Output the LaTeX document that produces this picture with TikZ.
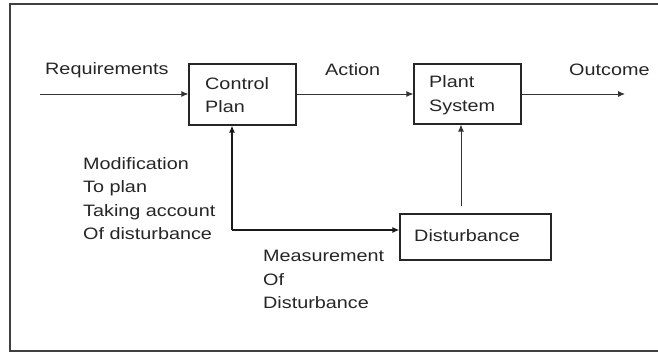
\documentclass[tikz,border=0pt]{standalone}
\usepackage{fontspec}
\setmainfont{Liberation Sans}[FakeStretch=1.2]
\usetikzlibrary{arrows.meta}
\begin{document}
\begin{tikzpicture}[x=1pt,y=-1pt,
  every node/.style={font=\fontsize{16.5}{23.5}\selectfont, inner sep=0pt},
  blockbox/.style={draw=black!85, line width=1.2pt},
  lbl/.style={anchor=west, align=left, text=black!85},
  conn/.style={draw=black!80, line width=0.9pt, -{Latex[length=7pt,width=6pt]}},
  fb/.style={draw=black!90, line width=1.8pt}]
\useasboundingbox (0,0) rectangle (658,353);
\fill[white] (0,0) rectangle (658,353);
% frame
\draw[black!75, line width=2.2pt] (665,4) -- (10,4) -- (10,351) -- (665,351);
% blocks
\node[blockbox, minimum width=107pt, minimum height=61pt] (cp) at (242.5,94.5) {};
\node[lbl] at (205,95) {Control\\Plan};
\node[blockbox, minimum width=107pt, minimum height=60pt] (ps) at (467.5,94) {};
\node[lbl] at (429,95) {Plant\\System};
\node[blockbox, minimum width=151pt, minimum height=46pt] (db) at (475.5,237) {};
\node[lbl] at (414,236) (dbt) {Disturbance};
% inputs / outputs
\coordinate (rin) at (40,94);
\coordinate (oout) at (625,94);
\draw[conn] (rin) -- (cp.west |- rin);
\draw[conn] (cp.east |- rin) -- (ps.west |- rin);
\draw[conn] (ps.east |- oout) -- (oout);
\draw[conn] ([xshift=-14.5pt]db.north) ++(0,-7) -- (ps.south -| 461,0);
% feedback
\coordinate (corner) at (232,230);
\draw[fb, -{Latex[length=7pt,width=6pt]}] (corner) -- (cp.south -| corner);
\draw[fb, -{Latex[length=7pt,width=6pt]}] (corner) -- (db.west |- corner);
% labels
\node[lbl] at (45,70) {Requirements};
\node[lbl] at (325,70) {Action};
\node[lbl] at (569,70) {Outcome};
\node[lbl, anchor=north west] at (83,157) {Modification\\To plan\\Taking account\\Of disturbance};
\node[lbl, anchor=north west] at (263,250) {Measurement\\Of\\Disturbance};
\end{tikzpicture}
\end{document}
